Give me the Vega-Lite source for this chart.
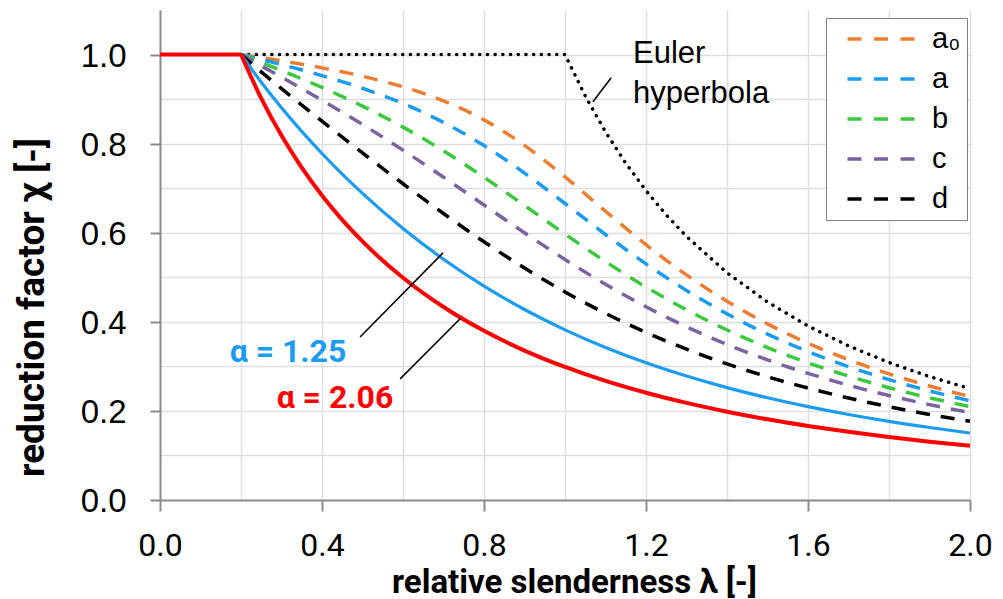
{
  "$schema": "https://vega.github.io/schema/vega-lite/v6.json",
  "width": 810,
  "height": 490,
  "autosize": {"type": "none"},
  "padding": {"left": 160, "top": 10, "right": 33, "bottom": 99},
  "background": "white",
  "config": {"view": {"stroke": null}},
  "datasets": {
    "curves": [
      {"s": "Euler", "lam": 0.2, "chi": 1}, {"s": "Euler", "lam": 1.0, "chi": 1}, {"s": "Euler", "lam": 1.05, "chi": 0.907}, {"s": "Euler", "lam": 1.1, "chi": 0.8264}, {"s": "Euler", "lam": 1.15, "chi": 0.7561}, {"s": "Euler", "lam": 1.2, "chi": 0.6944}, {"s": "Euler", "lam": 1.25, "chi": 0.64}, {"s": "Euler", "lam": 1.3, "chi": 0.5917}, {"s": "Euler", "lam": 1.4, "chi": 0.5102}, {"s": "Euler", "lam": 1.5, "chi": 0.4444}, {"s": "Euler", "lam": 1.6, "chi": 0.3906}, {"s": "Euler", "lam": 1.7, "chi": 0.346}, {"s": "Euler", "lam": 1.8, "chi": 0.3086}, {"s": "Euler", "lam": 1.9, "chi": 0.277}, {"s": "Euler", "lam": 2.0, "chi": 0.25},
      {"s": "a₀", "lam": 0.2, "chi": 1}, {"s": "a₀", "lam": 0.25, "chi": 0.9931}, {"s": "a₀", "lam": 0.3, "chi": 0.9859}, {"s": "a₀", "lam": 0.4, "chi": 0.9701}, {"s": "a₀", "lam": 0.5, "chi": 0.9513}, {"s": "a₀", "lam": 0.6, "chi": 0.9276}, {"s": "a₀", "lam": 0.7, "chi": 0.8961}, {"s": "a₀", "lam": 0.8, "chi": 0.8533}, {"s": "a₀", "lam": 0.9, "chi": 0.7961}, {"s": "a₀", "lam": 1.0, "chi": 0.7253}, {"s": "a₀", "lam": 1.1, "chi": 0.6482}, {"s": "a₀", "lam": 1.2, "chi": 0.5732}, {"s": "a₀", "lam": 1.3, "chi": 0.5053}, {"s": "a₀", "lam": 1.4, "chi": 0.4461}, {"s": "a₀", "lam": 1.5, "chi": 0.3953}, {"s": "a₀", "lam": 1.6, "chi": 0.352}, {"s": "a₀", "lam": 1.7, "chi": 0.315}, {"s": "a₀", "lam": 1.8, "chi": 0.2833}, {"s": "a₀", "lam": 1.9, "chi": 0.2559}, {"s": "a₀", "lam": 2.0, "chi": 0.2323},
      {"s": "a", "lam": 0.2, "chi": 1}, {"s": "a", "lam": 0.25, "chi": 0.9889}, {"s": "a", "lam": 0.3, "chi": 0.9775}, {"s": "a", "lam": 0.4, "chi": 0.9528}, {"s": "a", "lam": 0.5, "chi": 0.9243}, {"s": "a", "lam": 0.6, "chi": 0.89}, {"s": "a", "lam": 0.7, "chi": 0.8477}, {"s": "a", "lam": 0.8, "chi": 0.7957}, {"s": "a", "lam": 0.9, "chi": 0.7339}, {"s": "a", "lam": 1.0, "chi": 0.6656}, {"s": "a", "lam": 1.1, "chi": 0.596}, {"s": "a", "lam": 1.2, "chi": 0.53}, {"s": "a", "lam": 1.3, "chi": 0.4703}, {"s": "a", "lam": 1.4, "chi": 0.4179}, {"s": "a", "lam": 1.5, "chi": 0.3724}, {"s": "a", "lam": 1.6, "chi": 0.3332}, {"s": "a", "lam": 1.7, "chi": 0.2994}, {"s": "a", "lam": 1.8, "chi": 0.2702}, {"s": "a", "lam": 1.9, "chi": 0.2449}, {"s": "a", "lam": 2.0, "chi": 0.2229},
      {"s": "b", "lam": 0.2, "chi": 1}, {"s": "b", "lam": 0.25, "chi": 0.9822}, {"s": "b", "lam": 0.3, "chi": 0.9641}, {"s": "b", "lam": 0.4, "chi": 0.9261}, {"s": "b", "lam": 0.5, "chi": 0.8842}, {"s": "b", "lam": 0.6, "chi": 0.8371}, {"s": "b", "lam": 0.7, "chi": 0.7837}, {"s": "b", "lam": 0.8, "chi": 0.7245}, {"s": "b", "lam": 0.9, "chi": 0.6612}, {"s": "b", "lam": 1.0, "chi": 0.597}, {"s": "b", "lam": 1.1, "chi": 0.5352}, {"s": "b", "lam": 1.2, "chi": 0.4781}, {"s": "b", "lam": 1.3, "chi": 0.4269}, {"s": "b", "lam": 1.4, "chi": 0.3817}, {"s": "b", "lam": 1.5, "chi": 0.3422}, {"s": "b", "lam": 1.6, "chi": 0.3079}, {"s": "b", "lam": 1.7, "chi": 0.2781}, {"s": "b", "lam": 1.8, "chi": 0.2521}, {"s": "b", "lam": 1.9, "chi": 0.2294}, {"s": "b", "lam": 2.0, "chi": 0.2095},
      {"s": "c", "lam": 0.2, "chi": 1}, {"s": "c", "lam": 0.25, "chi": 0.9746}, {"s": "c", "lam": 0.3, "chi": 0.9491}, {"s": "c", "lam": 0.4, "chi": 0.8973}, {"s": "c", "lam": 0.5, "chi": 0.843}, {"s": "c", "lam": 0.6, "chi": 0.7854}, {"s": "c", "lam": 0.7, "chi": 0.7247}, {"s": "c", "lam": 0.8, "chi": 0.6622}, {"s": "c", "lam": 0.9, "chi": 0.5998}, {"s": "c", "lam": 1.0, "chi": 0.5399}, {"s": "c", "lam": 1.1, "chi": 0.4842}, {"s": "c", "lam": 1.2, "chi": 0.4338}, {"s": "c", "lam": 1.3, "chi": 0.3888}, {"s": "c", "lam": 1.4, "chi": 0.3492}, {"s": "c", "lam": 1.5, "chi": 0.3145}, {"s": "c", "lam": 1.6, "chi": 0.2842}, {"s": "c", "lam": 1.7, "chi": 0.2577}, {"s": "c", "lam": 1.8, "chi": 0.2345}, {"s": "c", "lam": 1.9, "chi": 0.2141}, {"s": "c", "lam": 2.0, "chi": 0.1962},
      {"s": "d", "lam": 0.2, "chi": 1}, {"s": "d", "lam": 0.25, "chi": 0.9611}, {"s": "d", "lam": 0.3, "chi": 0.9235}, {"s": "d", "lam": 0.4, "chi": 0.8504}, {"s": "d", "lam": 0.5, "chi": 0.7793}, {"s": "d", "lam": 0.6, "chi": 0.71}, {"s": "d", "lam": 0.7, "chi": 0.6431}, {"s": "d", "lam": 0.8, "chi": 0.5797}, {"s": "d", "lam": 0.9, "chi": 0.5208}, {"s": "d", "lam": 1.0, "chi": 0.4671}, {"s": "d", "lam": 1.1, "chi": 0.4189}, {"s": "d", "lam": 1.2, "chi": 0.3762}, {"s": "d", "lam": 1.3, "chi": 0.3385}, {"s": "d", "lam": 1.4, "chi": 0.3055}, {"s": "d", "lam": 1.5, "chi": 0.2766}, {"s": "d", "lam": 1.6, "chi": 0.2512}, {"s": "d", "lam": 1.7, "chi": 0.2289}, {"s": "d", "lam": 1.8, "chi": 0.2093}, {"s": "d", "lam": 1.9, "chi": 0.192}, {"s": "d", "lam": 2.0, "chi": 0.1766},
      {"s": "α=1.25", "lam": 0.2, "chi": 1}, {"s": "α=1.25", "lam": 0.25, "chi": 0.9377}, {"s": "α=1.25", "lam": 0.3, "chi": 0.8805}, {"s": "α=1.25", "lam": 0.35, "chi": 0.8274}, {"s": "α=1.25", "lam": 0.4, "chi": 0.7779}, {"s": "α=1.25", "lam": 0.45, "chi": 0.7316}, {"s": "α=1.25", "lam": 0.5, "chi": 0.6883}, {"s": "α=1.25", "lam": 0.6, "chi": 0.6095}, {"s": "α=1.25", "lam": 0.7, "chi": 0.5405}, {"s": "α=1.25", "lam": 0.8, "chi": 0.4801}, {"s": "α=1.25", "lam": 0.9, "chi": 0.4276}, {"s": "α=1.25", "lam": 1.0, "chi": 0.382}, {"s": "α=1.25", "lam": 1.1, "chi": 0.3424}, {"s": "α=1.25", "lam": 1.2, "chi": 0.308}, {"s": "α=1.25", "lam": 1.3, "chi": 0.2782}, {"s": "α=1.25", "lam": 1.4, "chi": 0.2522}, {"s": "α=1.25", "lam": 1.5, "chi": 0.2294}, {"s": "α=1.25", "lam": 1.6, "chi": 0.2095}, {"s": "α=1.25", "lam": 1.7, "chi": 0.1919}, {"s": "α=1.25", "lam": 1.8, "chi": 0.1764}, {"s": "α=1.25", "lam": 1.9, "chi": 0.1627}, {"s": "α=1.25", "lam": 2.0, "chi": 0.1504},
      {"s": "α=2.06", "lam": 0.2, "chi": 1}, {"s": "α=2.06", "lam": 0.25, "chi": 0.9016}, {"s": "α=2.06", "lam": 0.3, "chi": 0.8181}, {"s": "α=2.06", "lam": 0.35, "chi": 0.7462}, {"s": "α=2.06", "lam": 0.4, "chi": 0.6837}, {"s": "α=2.06", "lam": 0.45, "chi": 0.6289}, {"s": "α=2.06", "lam": 0.5, "chi": 0.5804}, {"s": "α=2.06", "lam": 0.6, "chi": 0.4989}, {"s": "α=2.06", "lam": 0.7, "chi": 0.4333}, {"s": "α=2.06", "lam": 0.8, "chi": 0.3798}, {"s": "α=2.06", "lam": 0.9, "chi": 0.3355}, {"s": "α=2.06", "lam": 1.0, "chi": 0.2986}, {"s": "α=2.06", "lam": 1.1, "chi": 0.2673}, {"s": "α=2.06", "lam": 1.2, "chi": 0.2408}, {"s": "α=2.06", "lam": 1.3, "chi": 0.218}, {"s": "α=2.06", "lam": 1.4, "chi": 0.1983}, {"s": "α=2.06", "lam": 1.5, "chi": 0.1811}, {"s": "α=2.06", "lam": 1.6, "chi": 0.1662}, {"s": "α=2.06", "lam": 1.7, "chi": 0.153}, {"s": "α=2.06", "lam": 1.8, "chi": 0.1413}, {"s": "α=2.06", "lam": 1.9, "chi": 0.1309}, {"s": "α=2.06", "lam": 2.0, "chi": 0.1216},
      {"s": "plateau", "lam": 0.0, "chi": 1}, {"s": "plateau", "lam": 0.2, "chi": 1}
    ],
    "notes": [
      {"k": "euler", "label": "Euler", "lam": 1.168, "chi": 0.981},
      {"k": "euler", "label": "hyperbola", "lam": 1.168, "chi": 0.892},
      {"k": "blue", "label": "α = 1.25", "lam": 0.316, "chi": 0.31},
      {"k": "red", "label": "α = 2.06", "lam": 0.432, "chi": 0.207}
    ],
    "leaders": [
      {"lam": 1.069, "chi": 0.894, "lam2": 1.114, "chi2": 0.948},
      {"lam": 0.494, "chi": 0.366, "lam2": 0.699, "chi2": 0.555},
      {"lam": 0.593, "chi": 0.272, "lam2": 0.741, "chi2": 0.407}
    ]
  },
  "layer": [
    {
      "data": {"name": "curves"},
      "transform": [{"filter": "datum.s === 'Euler'"}],
      "mark": {"type": "line", "color": "black", "strokeWidth": 3.5, "strokeDash": [0.1, 7.6], "strokeCap": "round"},
      "encoding": {
        "x": {
          "field": "lam", "type": "quantitative",
          "scale": {"domain": [0, 2], "nice": false, "zero": false},
          "axis": {
            "title": "relative slenderness λ [-]",
            "values": [0, 0.2, 0.4, 0.6, 0.8, 1.0, 1.2, 1.4, 1.6, 1.8, 2.0],
            "labelExpr": "round(datum.value*10) % 4 === 0 ? format(datum.value, '.1f') : ''",
            "tickOpacity": {"condition": {"test": "round(datum.value*10) % 4 === 0", "value": 1}, "value": 0},
            "grid": true, "gridColor": "#dedede", "gridWidth": 1.5,
            "domainColor": "#8c8c8c", "domainWidth": 2,
            "tickColor": "#8c8c8c", "tickWidth": 2, "tickSize": 11,
            "labelFont": "Roboto, sans-serif",
            "labelFontSize": 32, "labelColor": "black", "labelPadding": 19,
            "labelFlush": false, "labelOverlap": false,
            "titleFont": "Roboto, sans-serif",
            "titleFontSize": 33, "titleFontWeight": "bold", "titleColor": "black",
            "titleX": 414, "titleY": 92, "titleBaseline": "alphabetic", "titleAlign": "center"
          }
        },
        "y": {
          "field": "chi", "type": "quantitative",
          "scale": {"domain": [0, 1.1], "nice": false},
          "axis": {
            "title": "reduction factor χ [-]",
            "values": [0, 0.1, 0.2, 0.3, 0.4, 0.5, 0.6, 0.7, 0.8, 0.9, 1.0],
            "labelExpr": "round(datum.value*10) % 2 === 0 ? format(datum.value, '.1f') : ''",
            "tickOpacity": {"condition": {"test": "round(datum.value*10) % 2 === 0", "value": 1}, "value": 0},
            "grid": true, "gridColor": "#dedede", "gridWidth": 1.5,
            "domainColor": "#8c8c8c", "domainWidth": 2,
            "tickColor": "#8c8c8c", "tickWidth": 2, "tickSize": 10,
            "labelFont": "Liberation Sans, sans-serif",
            "labelFontSize": 33, "labelColor": "black", "labelPadding": 24, "labelOffset": 1.5,
            "labelOverlap": false,
            "titleFont": "Roboto, sans-serif",
            "titleFontSize": 37, "titleFontWeight": "bold", "titleColor": "black",
            "titleAngle": 270, "titleX": -117, "titleY": 297, "titleBaseline": "alphabetic", "titleAlign": "center"
          }
        }
      }
    },
    {
      "data": {"name": "curves"},
      "transform": [{"filter": "indexof(['a₀','a','b','c','d'], datum.s) >= 0"}],
      "mark": {"type": "line", "strokeWidth": 3.5, "strokeDash": [14, 11], "interpolate": "monotone"},
      "encoding": {
        "x": {"field": "lam", "type": "quantitative"},
        "y": {"field": "chi", "type": "quantitative"},
        "color": {
          "field": "s", "type": "nominal",
          "scale": {"domain": ["a₀", "a", "b", "c", "d"], "range": ["#ED7D31", "#1B9CF0", "#3CC83C", "#7A63A0", "#000000"]},
          "legend": {
            "orient": "none", "legendX": 666, "legendY": 8, "title": null,
            "padding": 6, "strokeColor": "#7f7f7f", "fillColor": "white",
            "symbolType": "stroke", "symbolSize": 4489, "symbolStrokeWidth": 3.5, "symbolDash": [14, 12.5],
            "clipHeight": 30, "rowPadding": 10, "symbolOffset": 13.5, "labelOffset": 15.5,
            "labelFont": "Liberation Sans, sans-serif", "labelFontSize": 29, "labelColor": "black", "labelLimit": 200
          }
        }
      }
    },
    {
      "data": {"name": "curves"},
      "transform": [{"filter": "datum.s === 'α=1.25'"}],
      "mark": {"type": "line", "color": "#1B9CF0", "strokeWidth": 3.2, "interpolate": "monotone"},
      "encoding": {
        "x": {"field": "lam", "type": "quantitative"},
        "y": {"field": "chi", "type": "quantitative"}
      }
    },
    {
      "data": {"name": "curves"},
      "transform": [{"filter": "datum.s === 'α=2.06' || datum.s === 'plateau'"}],
      "mark": {"type": "line", "color": "#FF0000", "strokeWidth": 4, "interpolate": "monotone"},
      "encoding": {
        "x": {"field": "lam", "type": "quantitative"},
        "y": {"field": "chi", "type": "quantitative"},
        "detail": {"field": "s", "type": "nominal"}
      }
    },
    {
      "data": {"name": "leaders"},
      "mark": {"type": "rule", "color": "black", "strokeWidth": 1.6},
      "encoding": {
        "x": {"field": "lam", "type": "quantitative"},
        "y": {"field": "chi", "type": "quantitative"},
        "x2": {"field": "lam2"},
        "y2": {"field": "chi2"}
      }
    },
    {
      "data": {"name": "notes"},
      "transform": [{"filter": "datum.k === 'euler'"}],
      "mark": {"type": "text", "align": "left", "baseline": "alphabetic", "font": "Liberation Sans, sans-serif", "fontSize": 31, "color": "black"},
      "encoding": {
        "x": {"field": "lam", "type": "quantitative"},
        "y": {"field": "chi", "type": "quantitative"},
        "text": {"field": "label"}
      }
    },
    {
      "data": {"name": "notes"},
      "transform": [{"filter": "datum.k === 'blue'"}],
      "mark": {"type": "text", "align": "center", "baseline": "alphabetic", "font": "Roboto, sans-serif", "fontSize": 32, "fontWeight": "bold", "color": "#1B9CF0"},
      "encoding": {
        "x": {"field": "lam", "type": "quantitative"},
        "y": {"field": "chi", "type": "quantitative"},
        "text": {"field": "label"}
      }
    },
    {
      "data": {"name": "notes"},
      "transform": [{"filter": "datum.k === 'red'"}],
      "mark": {"type": "text", "align": "center", "baseline": "alphabetic", "font": "Roboto, sans-serif", "fontSize": 32, "fontWeight": "bold", "color": "#FF0000"},
      "encoding": {
        "x": {"field": "lam", "type": "quantitative"},
        "y": {"field": "chi", "type": "quantitative"},
        "text": {"field": "label"}
      }
    }
  ]
}
